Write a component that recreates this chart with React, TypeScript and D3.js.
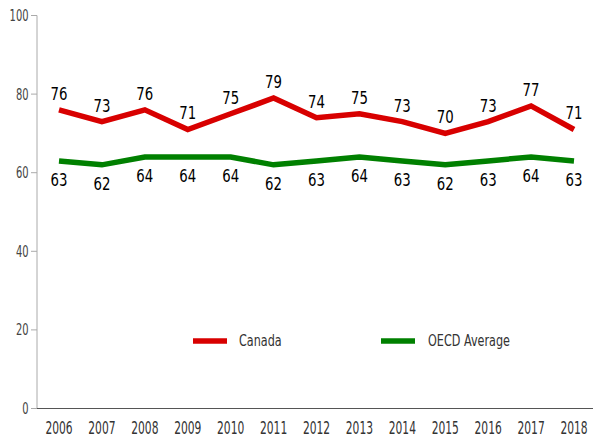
import React from "react";
import * as d3 from "d3";

const years = [2006, 2007, 2008, 2009, 2010, 2011, 2012, 2013, 2014, 2015, 2016, 2017, 2018];
const canada = [76, 73, 76, 71, 75, 79, 74, 75, 73, 70, 73, 77, 71];
const oecd = [63, 62, 64, 64, 64, 62, 63, 64, 63, 62, 63, 64, 63];
const yTicks = [0, 20, 40, 60, 80, 100];

const W = 593;
const H = 441;
const FONT = "'DejaVu Sans', sans-serif";

// condensed text: font is squeezed horizontally to look like the narrow face in the original
function CText(props: {
  x: number;
  y: number;
  size: number;
  sx: number;
  anchor?: string;
  fill?: string;
  children: React.ReactNode;
}) {
  const { x, y, size, sx, anchor = "start", fill = "#333", children } = props;
  return (
    <text
      transform={`translate(${x},${y}) scale(${sx},1)`}
      textAnchor={anchor}
      fontFamily={FONT}
      fontSize={size}
      fill={fill}
    >
      {children}
    </text>
  );
}

export default function App() {
  const x = d3.scaleLinear().domain([2006, 2018]).range([59, 574]);
  const y = d3.scaleLinear().domain([0, 100]).range([408.5, 15.5]);
  const line = d3
    .line<number>()
    .x((_, i) => x(years[i]))
    .y((d) => y(d));

  return (
    <svg width={W} height={H} style={{ position: "absolute", left: 0, top: 0 }}>
      {/* y axis */}
      <line x1={37} x2={37} y1={y(100)} y2={y(0)} stroke="#aaa" strokeWidth={1} />
      {yTicks.map((t) => (
        <g key={t}>
          <line x1={31} x2={37} y1={y(t)} y2={y(t)} stroke="#aaa" />
          <CText x={28.5} y={y(t) + 5.5} size={15.5} sx={0.64} anchor="end" fill="#444">
            {t}
          </CText>
        </g>
      ))}
      {/* x axis */}
      <line x1={37} x2={W} y1={y(0)} y2={y(0)} stroke="#555" strokeWidth={1.2} />
      {years.map((yr) => (
        <CText key={yr} x={x(yr)} y={433.5} size={17} sx={0.63} anchor="middle" fill="#333">
          {yr}
        </CText>
      ))}

      <path d={line(oecd) ?? ""} fill="none" stroke="#008000" strokeWidth={5.5} />
      <path d={line(canada) ?? ""} fill="none" stroke="#d80000" strokeWidth={5.5} />

      {canada.map((v, i) => (
        <CText key={"c" + i} x={x(years[i])} y={y(v) - 10} size={18} sx={0.74} anchor="middle" fill="#000">
          {v}
        </CText>
      ))}
      {oecd.map((v, i) => (
        <CText key={"o" + i} x={x(years[i])} y={y(v) + 25} size={18} sx={0.74} anchor="middle" fill="#000">
          {v}
        </CText>
      ))}

      {/* legend */}
      <line x1={193} x2={227} y1={341} y2={341} stroke="#d80000" strokeWidth={5.5} />
      <CText x={239} y={345.5} size={16.5} sx={0.68}>
        Canada
      </CText>
      <line x1={381} x2={415} y1={341} y2={341} stroke="#008000" strokeWidth={5.5} />
      <CText x={428} y={345.5} size={16.5} sx={0.68}>
        OECD Average
      </CText>
    </svg>
  );
}
